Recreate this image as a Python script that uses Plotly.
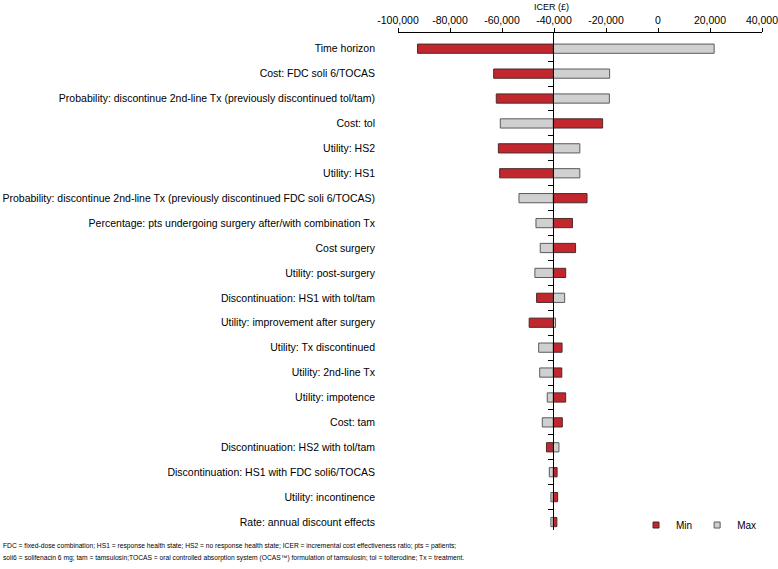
import plotly.graph_objects as go

categories = [
    "Time horizon",
    "Cost: FDC soli 6/TOCAS",
    "Probability: discontinue 2nd-line Tx (previously discontinued tol/tam)",
    "Cost: tol",
    "Utility: HS2",
    "Utility: HS1",
    "Probability: discontinue 2nd-line Tx (previously discontinued FDC soli 6/TOCAS)",
    "Percentage: pts undergoing surgery after/with combination Tx",
    "Cost surgery",
    "Utility: post-surgery",
    "Discontinuation: HS1 with tol/tam",
    "Utility: improvement after surgery",
    "Utility: Tx discontinued",
    "Utility: 2nd-line Tx",
    "Utility: impotence",
    "Cost: tam",
    "Discontinuation: HS2 with tol/tam",
    "Discontinuation: HS1 with FDC soli6/TOCAS",
    "Utility: incontinence",
    "Rate: annual discount effects",
]

base_icer = -40300

min_values = [-92500, -63200, -62200, -21300, -61400, -60900, -27300, -32900, -31700,
              -35500, -46700, -49550, -36900, -37000, -35500, -36800, -42900, -38800,
              -38600, -38900]
max_values = [21600, -18600, -18700, -60650, -30070, -30070, -53470, -46940, -45300,
              -47350, -35900, -39400, -45900, -45500, -42600, -44500, -38100, -41800,
              -41200, -41200]

x_ticks = [-100000, -80000, -60000, -40000, -20000, 0, 20000, 40000]
x_tick_labels = ["-100,000", "-80,000", "-60,000", "-40,000", "-20,000", "0", "20,000", "40,000"]

footnote_lines = [
    "FDC = fixed-dose combination; HS1 = response health state; HS2 = no response health state; "
    "ICER = incremental cost effectiveness ratio; pts = patients;",
    "soli6 = solifenacin 6 mg; tam = tamsulosin;TOCAS = oral controlled absorption system (OCAS\u2122) "
    "formulation of tamsulosin; tol = tolterodine; Tx = treatment.",
]

FONT = "Liberation Sans, Arial, Helvetica, sans-serif"
RED = "#c1272d"
GREY = "#d0d0d0"
RED_EDGE = "#4d2a2a"
GREY_EDGE = "#5a5a5a"

idx = list(range(len(categories)))

fig = go.Figure()
fig.add_trace(go.Bar(
    y=idx, x=[v - base_icer for v in min_values], base=base_icer,
    orientation="h", name="Min", width=0.37, showlegend=False,
    marker=dict(color=RED, line=dict(color=RED_EDGE, width=1)),
))
fig.add_trace(go.Bar(
    y=idx, x=[v - base_icer for v in max_values], base=base_icer,
    orientation="h", name="Max", width=0.37, showlegend=False,
    marker=dict(color=GREY, line=dict(color=GREY_EDGE, width=1)),
))
# legend entries (small square keys)
for nm, col, edge in [("Min", RED, RED_EDGE), ("Max", GREY, GREY_EDGE)]:
    fig.add_trace(go.Scatter(x=[None], y=[None], mode="markers", name=nm,
                             marker=dict(symbol="square", size=6, color=col,
                                         line=dict(color=edge, width=1))))
# invisible trace for the central axis
fig.add_trace(go.Scatter(x=[base_icer], y=[0], yaxis="y2", mode="markers",
                         marker=dict(opacity=0), showlegend=False, hoverinfo="skip"))

yr = [19.32, -0.63]
xr = [-100000, 40000]
fig.update_layout(
    width=778, height=569,
    margin=dict(l=398, r=16, t=33, b=39, autoexpand=False),
    paper_bgcolor="white", plot_bgcolor="white",
    barmode="overlay",
    font=dict(family=FONT, color="black"),
    xaxis=dict(
        side="top", range=xr, tickvals=x_ticks, ticktext=x_tick_labels,
        ticks="outside", ticklen=4, tickcolor="black", showline=True,
        linecolor="black", linewidth=1, showgrid=False, zeroline=False,
        tickfont=dict(size=10.5, family=FONT), ticklabeloverflow="allow",
    ),
    yaxis=dict(
        range=yr, tickvals=idx, ticktext=categories, ticks="",
        showline=False, showgrid=False, zeroline=False,
        tickfont=dict(size=10.5, family=FONT), ticklabelstandoff=22,
    ),
    yaxis2=dict(
        overlaying="y", anchor="free", side="left",
        position=(base_icer - xr[0]) / (xr[1] - xr[0]),
        range=yr, tickvals=[i + 0.5 for i in idx[:-1]], ticks="outside",
        ticklen=5, tickcolor="black", showticklabels=False,
        showline=True, linecolor="black", linewidth=1,
        showgrid=False, zeroline=False,
    ),
    legend=dict(
        orientation="h", x=1.0, y=0.01, xanchor="right", yanchor="middle",
        font=dict(size=10, family=FONT), bgcolor="rgba(0,0,0,0)",
        itemwidth=30, tracegroupgap=0,
    ),
    showlegend=True,
)

fig.add_annotation(text="ICER (\u00a3)", xref="x", yref="paper", x=-41000, y=1.0,
                   yshift=26, showarrow=False, font=dict(size=9, family=FONT),
                   xanchor="center", yanchor="middle")
for line, yy in zip(footnote_lines, [-0.0322, -0.0563]):
    fig.add_annotation(text=line, xref="paper", yref="paper",
                       x=(1 - 398) / 364, y=yy, xanchor="left", yanchor="middle",
                       align="left", showarrow=False,
                       font=dict(size=6.7, family=FONT))

fig.write_html("out.html",
               config={"displayModeBar": False},
               post_script="document.body.style.margin='0';document.body.style.padding='0';")
